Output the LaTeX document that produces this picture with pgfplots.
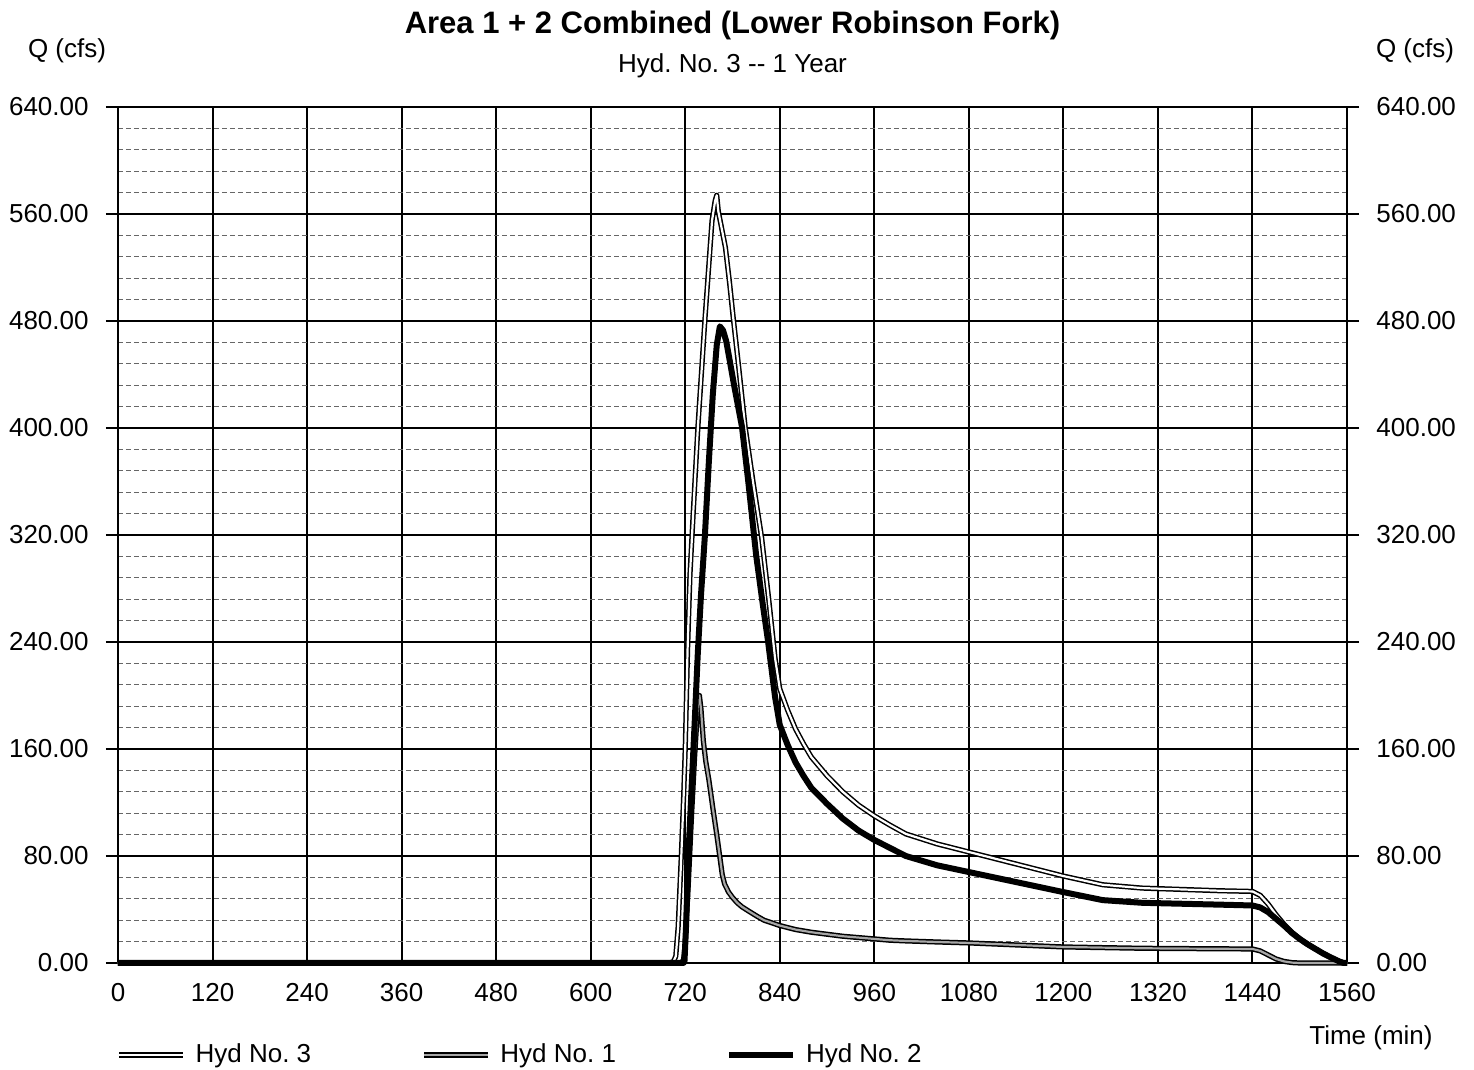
\documentclass[border=0pt]{standalone}
\usepackage{pgfplots}
\pgfplotsset{compat=1.18}
\usepackage{fontspec}
\setmainfont{Liberation Sans}
\frenchspacing

\pgfplotstableread{
t Q
0 0
700 0
705 1
708 5
711 27
715 80
718 125
720 160
723 235
726 290
730 335
736 400
745 481
754 555
758 570
760 574
762 562
766 550
771 535
776 510
781 482
788 445
796 401
806 360
817 318
826 272
834 228
840 205
850 189
860 175
870 164
880 154
900 140
920 128
940 118
960 110
980 103
1000 96.5
1040 89
1080 83
1120 77
1160 71
1200 65
1250 58.5
1300 56
1350 55
1400 54
1440 53.5
1450 50.5
1460 44
1470 36
1480 29
1490 23
1500 18
1510 14
1520 10.5
1530 7
1540 4
1550 1.2
1556 0
1560 0
}\hydthree

\pgfplotstableread{
t Q
0 0
700 0
710 0
716 0.5
718 3
720 15
724 60
728 110
732 155
736 193
738 200
740 190
743 166
746 151
750 137
755 116
760 96
764 79
767 66
770 59
775 53
780 49
786 45
792 42
800 39
811 35
820 32
830 30
840 28
850 26.5
860 25
880 23
900 21.5
920 20
940 19
960 18
980 17
1000 16.5
1040 15.7
1080 15
1120 14
1160 13
1200 12
1250 11.5
1300 11
1350 10.8
1400 10.6
1440 10.5
1450 9
1460 6
1470 3
1480 1.2
1490 0.3
1500 0
1560 0
}\hydone

\pgfplotstableread{
t Q
0 0
700 0
717 0
719 0.5
721 27
724 80
728 130
732 180
736 232
740 275
745 320
750 375
755 425
760 462
764 476
768 473
772 465
776 452
782 432
792 401
800 360
810 305
818 270
825 241
834 199
840 178
850 163
860 150
870 140
880 131
900 119
920 108
940 99
960 92
980 86
1000 80
1040 73
1080 68
1120 63
1160 58
1200 53
1250 47
1300 45
1350 44.3
1400 43.6
1440 43
1450 41.5
1460 38
1470 33
1480 28
1490 22.5
1500 18
1510 14
1520 10.5
1530 7
1540 4
1550 1.2
1556 0
1560 0
}\hydtwo

\begin{document}
\begin{tikzpicture}[x=1pt,y=1pt]
\useasboundingbox (0,0) rectangle (737,535);
\begin{axis}[
  at={(59pt,53.5pt)}, anchor=south west,
  scale only axis, width=614.5pt, height=428pt,
  xmin=0, xmax=1560, ymin=0, ymax=640,
  xtick={0,120,...,1560}, ytick={0,80,...,640},
  minor y tick num=4,
  xmajorgrids, ymajorgrids, yminorgrids,
  major grid style={black, line width=1pt},
  minor grid style={black!60, line width=0.4pt, dash pattern=on 2.5pt off 1.5pt},
  axis line style={black, line width=1pt},
  tick align=outside, major tick length=6pt, minor tick length=0pt,
  ytick pos=both, yticklabel pos=left,
  xtick style={draw=none},
  ytick style={black, line width=1pt},
  tick label style={font=\fontsize{13}{15}\selectfont},
  /pgf/number format/assume math mode=true,
  /pgf/number format/1000 sep={},
  yticklabel style={/pgf/number format/fixed, /pgf/number format/fixed zerofill, /pgf/number format/precision=2, inner sep=8.5pt},
  xticklabel style={inner sep=4pt},
  clip=false,
  legend style={at={(-0.0016,-0.1075)}, anchor=west, draw=none, fill=none, font=\fontsize{13}{15}\selectfont, inner sep=0pt, /tikz/every even column/.append style={column sep=53pt}},
  legend columns=3,
  legend cell align=left,
  legend image code/.code={\draw[#1] (0pt,0pt) -- (32pt,0pt); \path (35pt,0pt);},
]
\addplot[black, line width=0.75pt, double=white, double distance=1.1pt, line join=round] table[x=t,y=Q] {\hydthree};
\addlegendentry{Hyd No. 3}
\addplot[black, line width=0.75pt, double=black!35, double distance=1.1pt, line join=round] table[x=t,y=Q] {\hydone};
\addlegendentry{Hyd No. 1}
\addplot[black, line width=3pt, line join=round] table[x=t,y=Q] {\hydtwo};
\addlegendentry{Hyd No. 2}
\end{axis}
\begin{axis}[
  at={(59pt,53.5pt)}, anchor=south west,
  scale only axis, width=614.5pt, height=428pt,
  xmin=0, xmax=1560, ymin=0, ymax=640,
  axis x line=none, axis y line*=right,
  axis line style={draw=none},
  ytick={0,80,...,640},
  tick align=outside, major tick length=6pt,
  ytick style={draw=none},
  tick label style={font=\fontsize{13}{15}\selectfont},
  /pgf/number format/assume math mode=true,
  yticklabel style={/pgf/number format/fixed, /pgf/number format/fixed zerofill, /pgf/number format/precision=2, inner sep=8.5pt},
]
\addplot[draw=none] coordinates {(0,0)};
\end{axis}
\node[anchor=base, font=\bfseries\fontsize{15.5}{18}\selectfont] at (366.25,518) {Area 1 + 2 Combined (Lower Robinson Fork)};
\node[anchor=base, font=\fontsize{13}{15}\selectfont] at (366.25,498.5) {Hyd. No. 3 {-}{-} 1 Year};
\node[anchor=base, font=\fontsize{13}{15}\selectfont] at (33.5,506) {Q (cfs)};
\node[anchor=base, font=\fontsize{13}{15}\selectfont] at (707.5,506) {Q (cfs)};
\node[anchor=base, font=\fontsize{13}{15}\selectfont] at (685.5,12.5) {Time (min)};
\end{tikzpicture}
\end{document}
